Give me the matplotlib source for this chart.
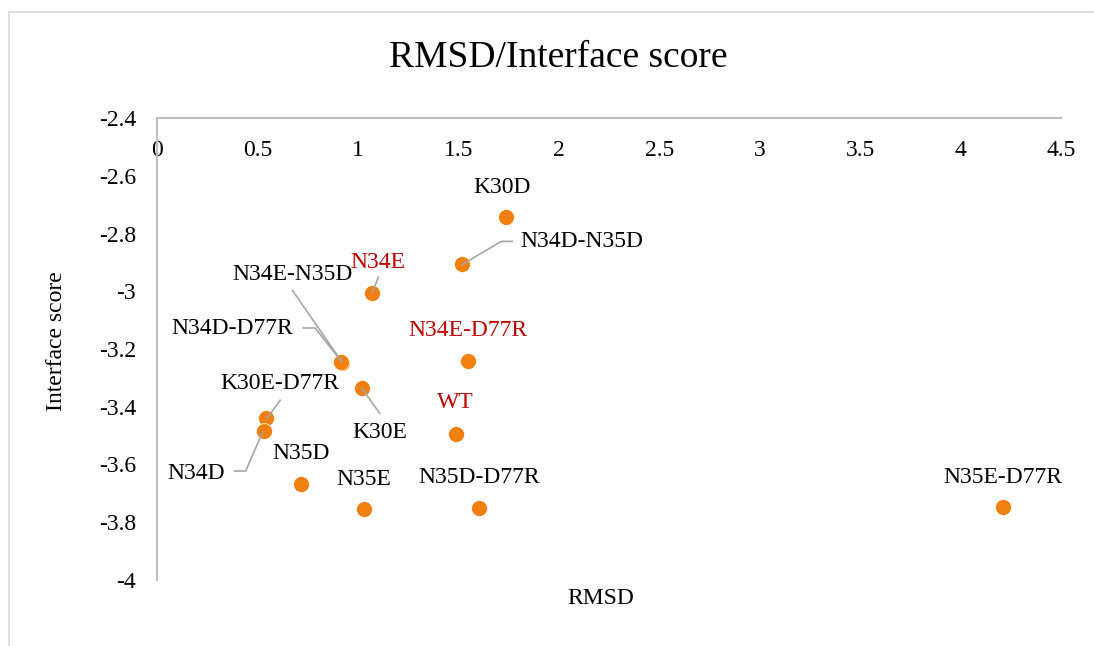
import matplotlib
matplotlib.use("Agg")
import matplotlib.pyplot as plt
from matplotlib.patches import Rectangle

# data
names = ["K30D", "N34D-N35D", "N34E", "N34E-N35D", "N34D-D77R", "K30E",
         "N34E-D77R", "WT", "K30E-D77R", "N34D", "N35D", "N35E",
         "N35D-D77R", "N35E-D77R"]
rmsd = [1.737, 1.520, 1.072, 0.919, 0.917, 1.019,
        1.548, 1.487, 0.543, 0.531, 0.718, 1.030,
        1.604, 4.211]
score = [-2.743, -2.907, -3.007, -3.247, -3.245, -3.336,
         -3.242, -3.494, -3.440, -3.484, -3.669, -3.755,
         -3.750, -3.748]
red_labels = ["N34E", "N34E-D77R", "WT"]
x_ticks = [0, 0.5, 1, 1.5, 2, 2.5, 3, 3.5, 4, 4.5]
y_ticks = [-2.4, -2.6, -2.8, -3, -3.2, -3.4, -3.6, -3.8, -4]

# label layout: text offset in pixels (right, down) + ha, and leader polyline offsets
label_pos = {
    "K30D": (-4, -30, "center"),
    "N34D-N35D": (58, -23, "left"),
    "N34E": (6, -31, "center"),
    "N34E-N35D": (-49, -88, "center"),
    "N34D-D77R": (-109, -33, "center"),
    "K30E": (18, 44, "center"),
    "N34E-D77R": (0, -31, "center"),
    "WT": (0, -31, "center"),
    "K30E-D77R": (14, -35, "center"),
    "N34D": (-68, 42, "center"),
    "N35D": (0, -31, "center"),
    "N35E": (0, -30, "center"),
    "N35D-D77R": (0, -30, "center"),
    "N35E-D77R": (0, -30, "center"),
}
leaders = {
    "N34D-N35D": [(0, 0), (39, -23), (50, -23)],
    "N34E": [(0, -1), (6, -16)],
    "N34E-N35D": [(-49, -72), (0, -1)],
    "N34D-D77R": [(-38, -34), (-26, -34), (-1, -2)],
    "K30E-D77R": [(14, -18), (1, 0)],
    "K30E": [(0, 0), (18, 25)],
    "N34D": [(-29, 40), (-18, 40), (-1, 1)],
}

plt.rcParams["font.family"] = ["Liberation Serif", "DejaVu Serif"]

W, H = 1094, 646
fig = plt.figure(figsize=(W / 100, H / 100), dpi=100)
fig.patches.append(Rectangle((9 / W, -0.1), 1.2, 1.1 - 12 / H, transform=fig.transFigure,
                             fill=False, edgecolor="#D9D9D9", linewidth=1.2))

ax = fig.add_axes([157 / W, 1 - 580 / H, 904 / W, 462 / H])
ax.set_xlim(0, 4.5)
ax.set_ylim(-4, -2.4)
ax.set_xticks(x_ticks)
ax.set_xticklabels([f"{t:g}" for t in x_ticks])
ax.set_yticks(y_ticks)
ax.set_yticklabels([f"{t:g}" for t in y_ticks])
for s in ["right", "bottom"]:
    ax.spines[s].set_visible(False)
for s in ["left", "top"]:
    ax.spines[s].set_color("#BFBFBF")
    ax.spines[s].set_linewidth(1.5)
ax.tick_params(axis="x", top=True, bottom=False, labeltop=True, labelbottom=False,
               length=0, pad=-31, labelsize=17)
ax.tick_params(axis="y", length=0, pad=15, labelsize=17)

orange = "#F08010"
ax.plot(rmsd, score, "o", color=orange, markersize=11.5, markeredgecolor="white",
        markeredgewidth=0.5, zorder=3)


def offset_pt(x, y, dx, dy):
    px, py = ax.transData.transform((x, y))
    return ax.transData.inverted().transform((px + dx, py - dy))


for n, x, y in zip(names, rmsd, score):
    dx, dy, ha = label_pos[n]
    col = "#C00000" if n in red_labels else "black"
    ax.annotate(n, (x, y), xytext=(dx, -dy), textcoords="offset pixels",
                ha=ha, va="center", fontsize=17, color=col, zorder=5)
    if n in leaders:
        pts = [offset_pt(x, y, a, b) for a, b in leaders[n]]
        ax.plot([p[0] for p in pts], [p[1] for p in pts], color="#A6A6A6",
                linewidth=1.2, zorder=4, clip_on=False)

fig.text(558 / W, 1 - 58 / H, "RMSD/Interface score", ha="center", va="center", fontsize=27)
fig.text(601 / W, 1 - 598 / H, "RMSD", ha="center", va="center", fontsize=17)
fig.text(57 / W, 1 - 341 / H, "Interface score", ha="center", va="center",
         rotation=90, fontsize=17)

fig.savefig("out.png", dpi=100)
